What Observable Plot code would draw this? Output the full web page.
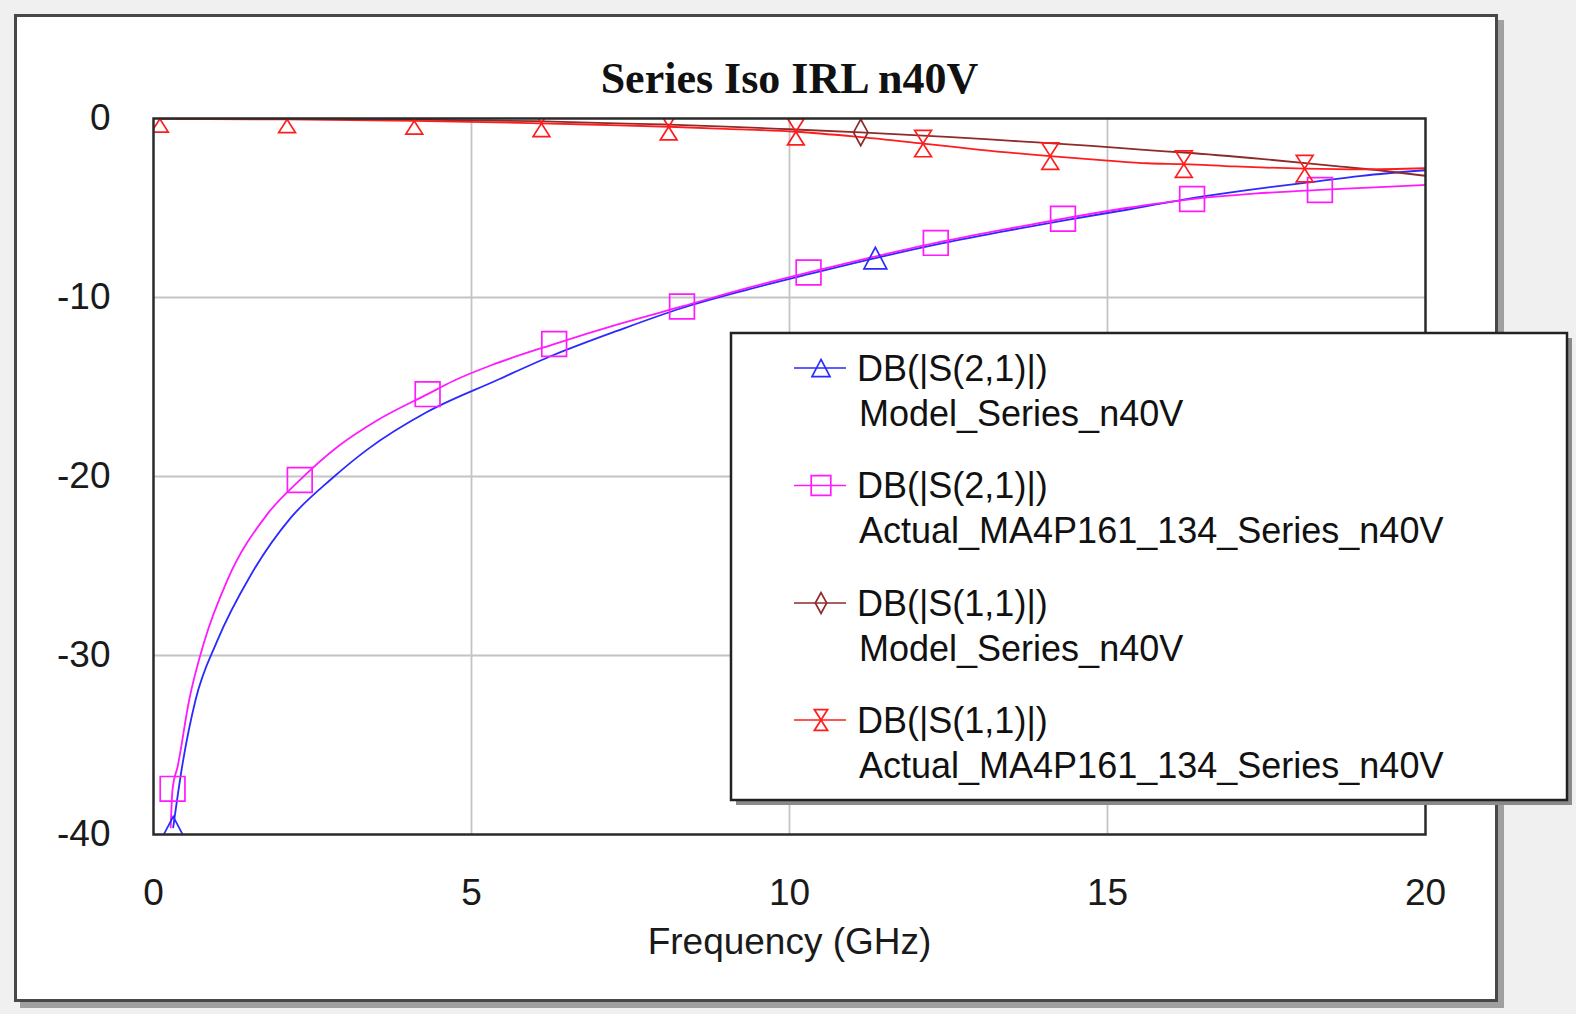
<!DOCTYPE html>
<html><head><meta charset="utf-8">
<script src="https://cdn.jsdelivr.net/npm/d3@7"></script>
<script src="https://cdn.jsdelivr.net/npm/@observablehq/plot@0.6"></script>
<style>
html,body{margin:0;padding:0;background:#f0f0f0;overflow:hidden;width:1576px;height:1014px;}
#panel{position:absolute;left:14px;top:14px;width:1484px;height:988px;box-sizing:border-box;border:3px solid #484848;background:#fff;box-shadow:6px 6px 0 #a0a0a0;}
#chart{position:absolute;left:0;top:0;}
#legend{position:absolute;left:0;top:0;}
</style></head><body>
<div id="panel"></div>
<div id="chart"></div>
<svg id="legend" width="1576" height="1014"></svg>
<script>
// ---------- data ----------
const chartTitle = "Series Iso IRL n40V";
const xLabel = "Frequency (GHz)";
const xTicks = [0, 5, 10, 15, 20];
const yTicks = [0, -10, -20, -30, -40];
const xGrid = [5, 10, 15];
const yGrid = [-10, -20, -30];

// DB(|S(2,1)|) Model_Series_n40V
const freqS21Model = [0.31, 0.45, 0.66, 1.0, 1.53, 2.16, 2.81, 3.36, 4.3, 5.38, 6.3, 7.3, 8.3, 9.3, 10.3, 11.35, 12.3, 13.3, 14.3, 15.35, 16.33, 17.2, 18.13, 19.0, 20.0];
const dbS21Model   = [-39.6, -36.2, -32.5, -29.2, -25.5, -22.3, -20.1, -18.5, -16.4, -14.65, -13.2, -11.85, -10.6, -9.6, -8.7, -7.8, -7.05, -6.35, -5.7, -5.07, -4.45, -4.0, -3.58, -3.2, -2.89];
const markS21Model = [0.31, 11.35];

// DB(|S(2,1)|) Actual_MA4P161_134_Series_n40V
const freqS21Actual = [0.27, 0.30, 0.38, 0.56, 0.8, 1.16, 1.79, 2.30, 2.89, 3.5, 4.31, 4.72, 5.3, 6.3, 7.3, 8.31, 9.3, 10.3, 11.3, 12.3, 13.3, 14.3, 15.3, 16.33, 17.3, 18.34, 19.2, 20.0];
const dbS21Actual   = [-39.6, -37.45, -36.2, -32.5, -29.2, -25.8, -22.1, -20.2, -18.35, -16.9, -15.4, -14.65, -13.8, -12.6, -11.5, -10.5, -9.5, -8.6, -7.75, -6.95, -6.25, -5.6, -5.0, -4.5, -4.2, -3.99, -3.85, -3.71];
const markS21Actual = [0.30, 2.30, 4.31, 6.3, 8.31, 10.3, 12.3, 14.3, 16.33, 18.34];

// DB(|S(1,1)|) Model_Series_n40V
const freqS11Model = [0.31, 2, 4, 5, 6, 7, 8, 9, 10, 11.12, 12.55, 13.5, 14.75, 15.63, 16.2, 17.45, 18.55, 19.33, 20];
const dbS11Model   = [0.0, -0.02, -0.06, -0.1, -0.15, -0.25, -0.33, -0.45, -0.6, -0.78, -1.04, -1.25, -1.53, -1.77, -1.9, -2.27, -2.65, -2.92, -3.2];
const markS11Model = [11.12];

// DB(|S(1,1)|) Actual_MA4P161_134_Series_n40V
const freqS11Actual = [0.1, 2.1, 4.1, 6.1, 7.0, 8.1, 9.0, 10.1, 11.0, 12.1, 13.0, 14.1, 15.0, 15.63, 16.2, 17.0, 18.1, 19.0, 20.0];
const dbS11Actual   = [-0.02, -0.05, -0.13, -0.27, -0.35, -0.46, -0.58, -0.74, -1.0, -1.4, -1.75, -2.1, -2.35, -2.5, -2.55, -2.68, -2.8, -2.84, -2.78];
const markS11Actual = [0.1, 2.1, 4.1, 6.1, 8.1, 10.1, 12.1, 14.1, 16.2, 18.1];

const legendLine1 = ["DB(|S(2,1)|)", "DB(|S(2,1)|)", "DB(|S(1,1)|)", "DB(|S(1,1)|)"];
const legendLine2 = ["Model_Series_n40V", "Actual_MA4P161_134_Series_n40V", "Model_Series_n40V", "Actual_MA4P161_134_Series_n40V"];

// ---------- styling ----------
const colors = ["#2a2aff", "#ff1aff", "#8f2a2a", "#ff1c1c"];
const FONT = "Liberation Sans, Arial, Helvetica, sans-serif";

// custom marker shapes
const rOf = size => Math.sqrt(size / Math.PI);
const triSym = {draw(c, s){ const r = rOf(s), w = r*0.95, h = r*0.9; c.moveTo(0,-h); c.lineTo(w,h); c.lineTo(-w,h); c.closePath(); }};
const sqSym = {draw(c, s){ const r = rOf(s)*1.03; c.moveTo(-r,-r); c.lineTo(r,-r); c.lineTo(r,r); c.lineTo(-r,r); c.closePath(); }};
const diaSym = {draw(c, s){ const r = rOf(s), w = r*0.6, h = r*1.1; c.moveTo(0,-h); c.lineTo(w,0); c.lineTo(0,h); c.lineTo(-w,0); c.closePath(); }};
const hgSym = {draw(c, s){ const r = rOf(s), w = r*0.7, h = r*1.1; c.moveTo(-w,-h); c.lineTo(w,-h); c.lineTo(-w,h); c.lineTo(w,h); c.closePath(); }};
const symbols = [triSym, sqSym, diaSym, hgSym];

const toRows = (f, v) => f.map((x, i) => ({f: x, db: v[i]}));
const series = [
  {rows: toRows(freqS21Model, dbS21Model), marks: markS21Model},
  {rows: toRows(freqS21Actual, dbS21Actual), marks: markS21Actual},
  {rows: toRows(freqS11Model, dbS11Model), marks: markS11Model},
  {rows: toRows(freqS11Actual, dbS11Actual), marks: markS11Actual}
];

const lineMarks = [];
const dotMarks = [];
series.forEach((s, i) => {
  lineMarks.push(Plot.line(s.rows, {x: "f", y: "db", stroke: colors[i], strokeWidth: 1.8, curve: "monotone-x", clip: true}));
  dotMarks.push(Plot.dot(s.rows.filter(d => s.marks.includes(d.f)), {x: "f", y: "db", r: 12, symbol: symbols[i], stroke: colors[i], fill: "none", strokeWidth: 1.7, clip: true}));
});

const chart = Plot.plot({
  width: 1576, height: 1014,
  marginLeft: 153, marginRight: 151, marginTop: 118, marginBottom: 180,
  style: {background: "transparent", fontFamily: FONT, color: "#1a1a1a", overflow: "visible"},
  x: {domain: [0, 20], label: null},
  y: {domain: [-40, 0], label: null},
  marks: [
    Plot.gridX(xGrid, {stroke: "#c4c4c4", strokeOpacity: 1, strokeWidth: 1.8}),
    Plot.gridY(yGrid, {stroke: "#c4c4c4", strokeOpacity: 1, strokeWidth: 1.8}),
    ...lineMarks,
    ...dotMarks,
    Plot.frame({stroke: "#2a2a2a", strokeWidth: 2.5}),
    Plot.axisX(xTicks, {tickSize: 0, tickPadding: 44, fontSize: 37, tickFormat: d => String(d), label: null}),
    Plot.axisY(yTicks, {tickSize: 0, tickPadding: 43, fontSize: 37, tickFormat: d => String(d), label: null}),
    Plot.text([xLabel], {frameAnchor: "bottom", dy: 119, fontSize: 37, fill: "#1a1a1a"}),
    Plot.text([chartTitle], {frameAnchor: "top", dy: -57, fontSize: 44, fontWeight: "bold", fontFamily: "Liberation Serif, Times New Roman, serif", fill: "#111"})
  ]
});
document.getElementById("chart").appendChild(chart);

// ---------- legend ----------
const lg = d3.select("#legend");
const box = {x: 731, y: 333, w: 836, h: 467};
lg.append("rect").attr("x", box.x + 5).attr("y", box.y + 5).attr("width", box.w).attr("height", box.h).attr("fill", "#8a8a8a");
lg.append("rect").attr("x", box.x).attr("y", box.y).attr("width", box.w).attr("height", box.h).attr("fill", "#fff").attr("stroke", "#222").attr("stroke-width", 2.5);
const rowY = [368, 485.5, 603, 720];
legendLine1.forEach((t, i) => {
  const y = rowY[i];
  lg.append("line").attr("x1", 794).attr("x2", 846).attr("y1", y).attr("y2", y).attr("stroke", colors[i]).attr("stroke-width", 1.7);
  lg.append("path").attr("d", d3.symbol(symbols[i], Math.PI * 9.5 * 9.5)()).attr("transform", `translate(821,${y})`)
    .attr("fill", "none").attr("stroke", colors[i]).attr("stroke-width", 1.7);
  lg.append("text").attr("x", 857).attr("y", y).attr("dy", "0.35em").attr("font-family", FONT).attr("font-size", 36).attr("fill", "#111").text(t);
  lg.append("text").attr("x", 859).attr("y", y + 45).attr("dy", "0.35em").attr("font-family", FONT).attr("font-size", 36).attr("fill", "#111").text(legendLine2[i]);
});
</script>
</body></html>
